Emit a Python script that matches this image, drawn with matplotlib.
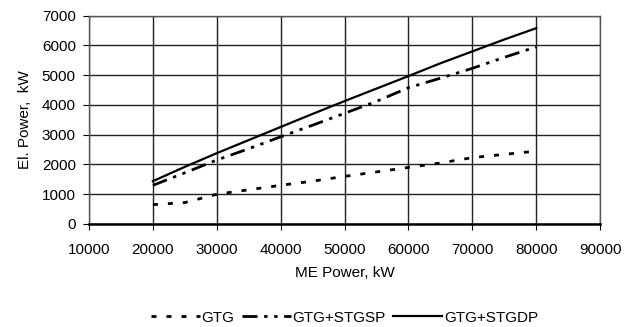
import matplotlib
matplotlib.use("Agg")
import matplotlib.pyplot as plt
from matplotlib.ticker import MultipleLocator

plt.rcParams["font.family"] = ["Liberation Sans", "DejaVu Sans"]
plt.rcParams["font.size"] = 11

me_power = [20000, 25000, 30000, 35000, 40000, 45000, 50000, 55000, 60000, 65000, 70000, 75000, 80000]
gtg = [650, 720, 1000, 1150, 1300, 1440, 1600, 1750, 1900, 2050, 2230, 2340, 2450]
gtg_stgsp = [1300, 1720, 2150, 2530, 2930, 3320, 3720, 4120, 4580, 4900, 5230, 5600, 5950]
gtg_stgdp = [1440, 1920, 2380, 2820, 3260, 3700, 4130, 4550, 4970, 5400, 5800, 6200, 6580]
labels = ["GTG", "GTG+STGSP", "GTG+STGDP"]

fig = plt.figure(figsize=(6.33, 3.27), dpi=100)
ax = fig.add_axes([0.1406, 0.315, 0.8074, 0.637])

ax.plot(me_power, gtg, color="black", lw=2, linestyle=(0, (1.8, 3.6)), label=labels[0])
ax.plot(me_power, gtg_stgsp, color="black", lw=2,
        linestyle=(0, (5.4, 2.4, 1.2, 2.4, 1.2, 2.4)), label=labels[1])
ax.plot(me_power, gtg_stgdp, color="black", lw=1.6, linestyle="-", label=labels[2])

ax.set_xlim(10000, 90000)
ax.set_ylim(0, 7000)
ax.xaxis.set_major_locator(MultipleLocator(10000))
ax.yaxis.set_major_locator(MultipleLocator(1000))
ax.grid(True, color="#222222", lw=1)
ax.set_axisbelow(True)
for s in ax.spines.values():
    s.set_color("#555555")
    s.set_linewidth(1)
ax.spines["bottom"].set_color("black")
ax.spines["bottom"].set_linewidth(1.8)
ax.tick_params(direction="out", length=4.5, color="black", labelsize=11)
ax.tick_params(axis="x", pad=9)
ax.tick_params(axis="y", pad=5)

ax.set_xlabel("ME Power, kW", fontsize=11, labelpad=7)
ax.set_ylabel("El. Power,  kW", fontsize=11, labelpad=7)

ax.legend(loc="center", bbox_to_anchor=(0.5, -0.45), ncol=3, frameon=False,
          fontsize=11, handlelength=3.2, handletextpad=0.1, columnspacing=0.5)

fig.savefig("out.png", dpi=100)
